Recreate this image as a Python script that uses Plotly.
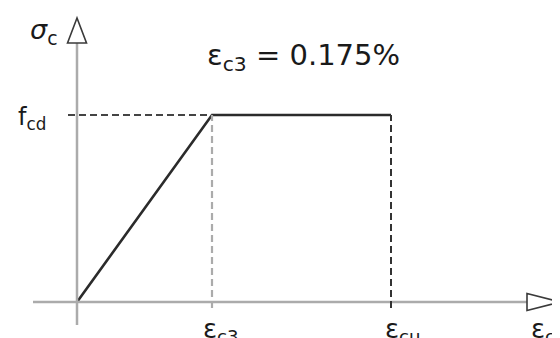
import plotly.graph_objects as go

# Schematic stress-strain diagram (bilinear design curve)
strain = [0.0, 1.35, 3.14]   # 0, eps_c3, eps_cu  (schematic units)
stress = [0.0, 1.87, 1.87]   # 0, f_cd, f_cd
strain_labels = ["ε<sub>c3</sub>", "ε<sub>cu</sub>"]
stress_label = "f<sub>cd</sub>"
title_text = "ε<sub>c3</sub> = 0.175%"

# axis extents (same schematic units)
X_AXIS = (-0.44, 4.50)
Y_AXIS = (-0.23, 2.59)
ARROW = 0.33

AXIS_GREY = "#ababab"
INK = "#2b2b2b"
FONT = "DejaVu Sans, Liberation Sans, Arial, sans-serif"

fig = go.Figure()

# main curve
fig.add_trace(go.Scatter(
    x=strain, y=stress, mode="lines",
    line=dict(color=INK, width=2.6),
    hoverinfo="skip", showlegend=False,
))

shapes = []
# axes
shapes.append(dict(type="line", x0=X_AXIS[0], x1=X_AXIS[1], y0=0, y1=0,
                   line=dict(color=AXIS_GREY, width=2.5)))
shapes.append(dict(type="line", x0=0, x1=0, y0=Y_AXIS[0], y1=Y_AXIS[1],
                   line=dict(color=AXIS_GREY, width=2.5)))
# arrow heads (hollow triangles)
xe, ye = X_AXIS[1], Y_AXIS[1]
shapes.append(dict(type="path",
                   path=f"M {xe},0.085 L {xe + ARROW},0 L {xe},-0.085 Z",
                   line=dict(color="#3a3a3a", width=1.6), fillcolor="white"))
shapes.append(dict(type="path",
                   path=f"M -0.095,{ye} L 0,{ye + 0.25} L 0.095,{ye} Z",
                   line=dict(color="#3a3a3a", width=1.6), fillcolor="white"))
# reference dashes
shapes.append(dict(type="line", x0=-0.09, x1=strain[1], y0=stress[1], y1=stress[1],
                   line=dict(color="#444444", width=1.8, dash="7px,4px")))
shapes.append(dict(type="line", x0=strain[1], x1=strain[1], y0=-0.06, y1=stress[1],
                   line=dict(color=AXIS_GREY, width=2.2, dash="7px,4px")))
shapes.append(dict(type="line", x0=strain[2], x1=strain[2], y0=-0.06, y1=stress[2],
                   line=dict(color="#333333", width=2.0, dash="7px,4px")))

annotations = [
    dict(x=-0.33, y=2.71, text="<i>σ</i><sub>c</sub>", font=dict(size=27)),
    dict(x=-0.45, y=1.84, text=stress_label, font=dict(size=24)),
    dict(x=2.26, y=2.45, text=title_text, font=dict(size=29)),
    dict(x=1.44, y=-0.28, text=strain_labels[0], font=dict(size=26)),
    dict(x=3.26, y=-0.28, text=strain_labels[1], font=dict(size=26)),
    dict(x=4.66, y=-0.28, text="ε<sub>c</sub>", font=dict(size=26)),
]
for a in annotations:
    a.update(showarrow=False, xref="x", yref="y")
    a["font"].update(color="#1a1a1a", family=FONT)

# page body adds an 8px offset, so the figure is 552x330 and the ranges
# are chosen so the drawing lands where it sits in the reference
fig.update_layout(
    width=552, height=330,
    margin=dict(l=0, r=0, t=0, b=0),
    paper_bgcolor="white", plot_bgcolor="white",
    xaxis=dict(range=[-0.69, 4.83], visible=False, fixedrange=True),
    yaxis=dict(range=[-0.36, 2.94], visible=False, fixedrange=True),
    shapes=shapes,
    annotations=annotations,
    showlegend=False,
)

fig.write_html("out.html")
